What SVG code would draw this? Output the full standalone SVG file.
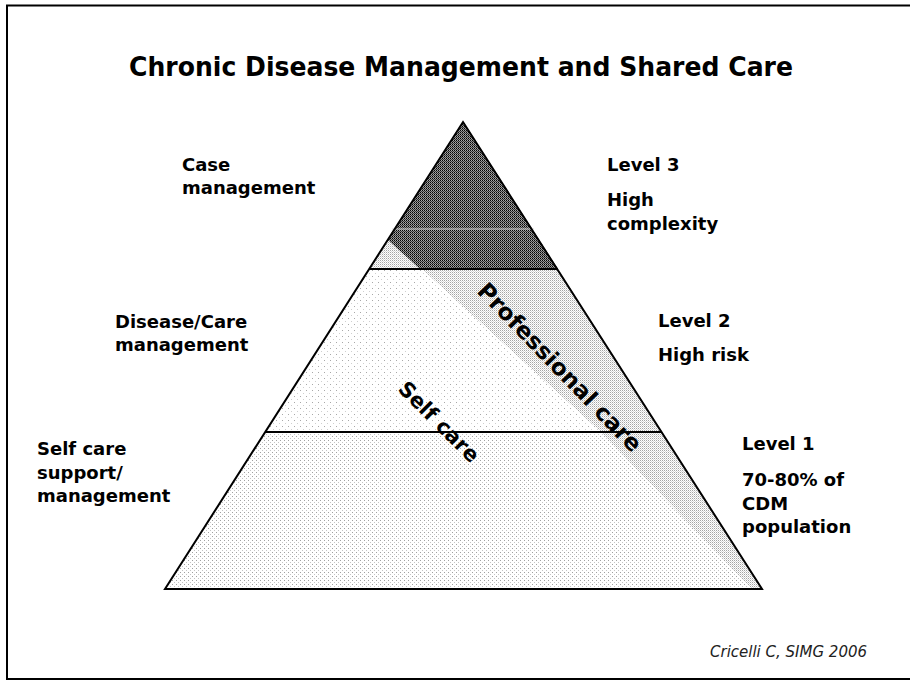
<svg xmlns="http://www.w3.org/2000/svg" width="910" height="681" viewBox="0 0 910 681">
  <defs>
    <!-- stipple fills for the pyramid levels -->
    <pattern id="dotsLevel2" width="6" height="6" patternUnits="userSpaceOnUse">
      <rect width="6" height="6" fill="#ffffff"/>
      <rect x="0" y="0" width="1" height="1" fill="#a8a8a8"/>
      <rect x="3" y="3" width="1" height="1" fill="#cfcfcf"/>
    </pattern>
    <pattern id="dotsLevel1" width="4" height="4" patternUnits="userSpaceOnUse">
      <rect width="4" height="4" fill="#ffffff"/>
      <rect x="0" y="0" width="1" height="1" fill="#a0a0a0"/>
      <rect x="2" y="2" width="1" height="1" fill="#c4c4c4"/>
    </pattern>
    <pattern id="dotsBand" width="2" height="2" patternUnits="userSpaceOnUse">
      <rect width="2" height="2" fill="#ffffff"/>
      <rect x="0" y="0" width="1" height="1" fill="#a4a4a4"/>
      <rect x="1" y="1" width="1" height="1" fill="#d6d6d6"/>
    </pattern>
    <pattern id="dotsDark" width="2" height="2" patternUnits="userSpaceOnUse">
      <rect x="0" y="0" width="1" height="1" fill="#000000"/>
      <rect x="1" y="1" width="1" height="1" fill="#333333"/>
      <rect x="1" y="0" width="1" height="1" fill="#aaaaaa"/>
      <rect x="0" y="1" width="1" height="1" fill="#8a8a8a"/>
    </pattern>
    <style>
      .frame { stroke: #000; stroke-width: 2; fill: none; }
      .edge { stroke: #000; stroke-width: 2; fill: none; stroke-linejoin: miter; }
      .lbl { font-family: "DejaVu Sans", Verdana, sans-serif; font-weight: bold; font-size: 18px; fill: #000; }
      .title { font-family: "DejaVu Sans", Verdana, sans-serif; font-weight: bold; font-size: 27px; fill: #000; }
      .band { font-family: "DejaVu Sans", Verdana, sans-serif; font-weight: bold; font-size: 21px; fill: #000; }
      .band-lg { font-size: 23px; }
      .cite { font-family: "DejaVu Sans", Verdana, sans-serif; font-style: italic; font-size: 15px; fill: #222; }
    </style>
  </defs>

  <rect width="910" height="681" fill="#ffffff"/>

  <!-- slide frame -->
  <g id="frame">
    <path class="frame" d="M7,680 L7,5.5 L910,5.5 M7,679 L910,679"/>
  </g>

  <g id="title">
    <text class="title" x="461" y="76" text-anchor="middle" textLength="664" lengthAdjust="spacingAndGlyphs">Chronic Disease Management and Shared Care</text>
  </g>

  <!-- pyramid -->
  <g id="pyramid">
    <!-- level 1 -->
    <polygon points="265,432 661,432 762,589 165,589" fill="url(#dotsLevel1)"/>
    <!-- level 2 -->
    <polygon points="369,269 558,269 661,432 265,432" fill="url(#dotsLevel2)"/>
    <!-- professional care band -->
    <polygon points="422,269 558,269 762,589 752,589 601,432" fill="url(#dotsBand)"/>
    <!-- level 3 -->
    <polygon points="463,122 558,269 369,269" fill="url(#dotsDark)"/>
    <polygon points="388,240 420,269 369,269" fill="url(#dotsBand)"/>
    <line x1="392" y1="229" x2="534" y2="229" stroke="#d8d8d8" stroke-width="1.2"/>
    <!-- outline and level dividers -->
    <polygon class="edge" points="463,122 762,589 165,589"/>
    <line class="edge" x1="369" y1="269" x2="558" y2="269"/>
    <line class="edge" x1="265" y1="432" x2="661" y2="432"/>
    <text class="band band-lg" transform="translate(476,292) rotate(46)">Professional care</text>
    <text class="band" transform="translate(397,390) rotate(45)">Self care</text>
  </g>

  <g id="level3-left">
    <text class="lbl" x="182" y="171">Case</text>
    <text class="lbl" x="182" y="194">management</text>
  </g>
  <g id="level3-right">
    <text class="lbl" x="607" y="171">Level 3</text>
    <text class="lbl" x="607" y="206">High</text>
    <text class="lbl" x="607" y="230">complexity</text>
  </g>

  <g id="level2-left">
    <text class="lbl" x="115" y="328">Disease/Care</text>
    <text class="lbl" x="115" y="351">management</text>
  </g>
  <g id="level2-right">
    <text class="lbl" x="658" y="327">Level 2</text>
    <text class="lbl" x="658" y="361">High risk</text>
  </g>

  <g id="level1-left">
    <text class="lbl" x="37" y="455">Self care</text>
    <text class="lbl" x="37" y="479">support/</text>
    <text class="lbl" x="37" y="502">management</text>
  </g>
  <g id="level1-right">
    <text class="lbl" x="742" y="450">Level 1</text>
    <text class="lbl" x="742" y="486">70-80% of</text>
    <text class="lbl" x="742" y="510">CDM</text>
    <text class="lbl" x="742" y="533">population</text>
  </g>

  <g id="citation">
    <text class="cite" x="710" y="657">Cricelli C, SIMG 2006</text>
  </g>
</svg>
